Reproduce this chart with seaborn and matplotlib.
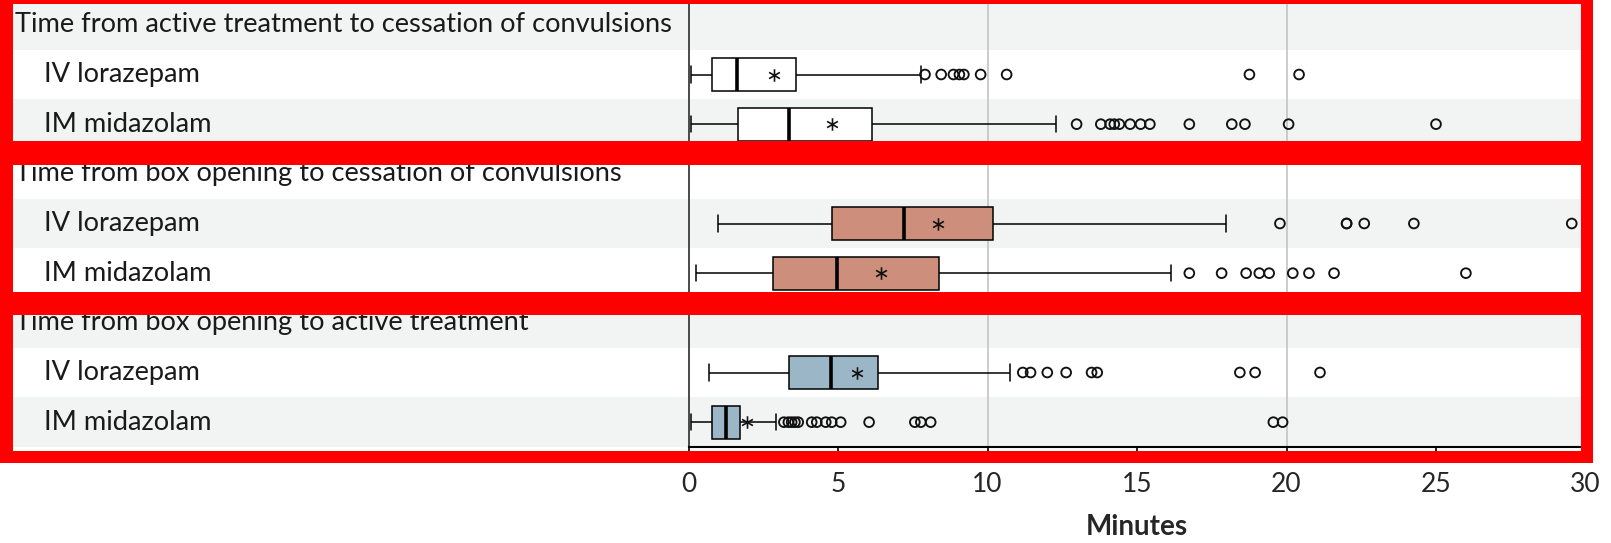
import numpy as np
import pandas as pd
import matplotlib
matplotlib.use("Agg")
import matplotlib.pyplot as plt
import matplotlib.transforms as mtransforms
from matplotlib.patches import Rectangle
import seaborn as sns

# ---- data (minutes) ---------------------------------------------------------
measures = [
    "Time from active treatment to cessation of convulsions",
    "Time from box opening to cessation of convulsions",
    "Time from box opening to active treatment",
]
arms = ["IV lorazepam", "IM midazolam"]
box_colors = ["#ffffff", "#cd8f7b", "#9bb7c7"]

# five-number summaries per measure, [IV lorazepam, IM midazolam]
whisker_low = [[0.08, 0.08], [1.00, 0.25], [0.69, 0.07]]
quartile_1 = [[0.78, 1.67], [4.79, 2.84], [3.36, 0.78]]
median = [[1.63, 3.37], [7.22, 4.96], [4.77, 1.24]]
quartile_3 = [[3.59, 6.15], [10.17, 8.37], [6.35, 1.72]]
whisker_high = [[7.78, 12.28], [17.98, 16.13], [10.75, 2.92]]
mean = [[2.87, 4.79], [8.35, 6.44], [5.63, 1.97]]

outliers = [
    [
        [7.91, 8.45, 8.86, 9.06, 9.21, 9.77, 10.64, 18.76, 20.42],
        [12.98, 13.79, 14.10, 14.24, 14.41, 14.77, 15.12, 15.43, 16.75,
         18.17, 18.61, 20.07, 25.00],
    ],
    [
        [19.78, 22.01, 22.01, 22.60, 24.26, 29.54],
        [16.75, 17.83, 18.65, 19.09, 19.42, 20.21, 20.75, 21.59, 26.00],
    ],
    [
        [11.18, 11.44, 12.00, 12.63, 13.48, 13.67, 18.44, 18.95, 21.12],
        [3.19, 3.34, 3.45, 3.56, 3.67, 4.12, 4.29, 4.59, 4.79, 5.09, 6.04,
         7.57, 7.77, 8.10, 19.56, 19.87],
    ],
]

x_ticks = [0, 5, 10, 15, 20, 25, 30]
x_label = "Minutes"

# ---- long-format tables -----------------------------------------------------
row_keys, row_labels, row_is_header = [], [], []
box_rows, flier_rows, mean_rows = [], [], []
for m, measure in enumerate(measures):
    row_keys.append(f"m{m}")
    row_labels.append(measure)
    row_is_header.append(True)
    for a, arm in enumerate(arms):
        key = f"m{m}-a{a}"
        row_keys.append(key)
        row_labels.append(arm)
        row_is_header.append(False)
        five = [whisker_low[m][a], quartile_1[m][a], median[m][a],
                quartile_3[m][a], whisker_high[m][a]]
        for v in five:
            box_rows.append({"row": key, "measure": measure, "minutes": v})
        for v in outliers[m][a]:
            flier_rows.append({"row": key, "minutes": v})
        mean_rows.append({"row": key, "minutes": mean[m][a]})

boxes = pd.DataFrame(box_rows)
fliers = pd.DataFrame(flier_rows)
means = pd.DataFrame(mean_rows)

# ---- figure -----------------------------------------------------------------
sns.set_theme(style="white")
plt.rcParams["font.family"] = ["Lato", "DejaVu Sans"]

W, H = 1611, 543
fig = plt.figure(figsize=(W / 100, H / 100), dpi=100)
ax_left, ax_right, ax_top, ax_bottom = 688.5, 1585.5, 0.0, 447.0
ax = fig.add_axes([ax_left / W, 1 - ax_bottom / H,
                   (ax_right - ax_left) / W, (ax_bottom - ax_top) / H])

n_rows = len(row_keys)
# alternating row bands, running under the labels on the left
for i in range(n_rows):
    if i % 2 == 0:
        band = ax.axhspan(i - 0.5, i + 0.5, xmin=-ax_left / (ax_right - ax_left),
                          xmax=1.0, facecolor="#f2f3f3", edgecolor="none",
                          zorder=0)
        band.set_clip_on(False)

for g in (10, 20):
    ax.axvline(g, color="#c4c4c4", lw=1.2, zorder=0.5)

sns.boxplot(
    data=boxes, x="minutes", y="row", hue="measure", order=row_keys,
    hue_order=measures, palette=box_colors, saturation=1, dodge=False,
    orient="h", whis=(0, 100), showfliers=False, width=0.66,
    linecolor="black", linewidth=1.1, legend=False, ax=ax,
    medianprops={"linewidth": 2.6, "color": "black"},
    boxprops={"zorder": 2}, whiskerprops={"zorder": 2}, capprops={"zorder": 2},
)

# outliers as open circles
n_before = len(ax.collections)
sns.stripplot(
    data=fliers, x="minutes", y="row", order=row_keys, orient="h",
    jitter=False, size=7, marker="o", color="black", edgecolor="black",
    linewidth=1.35, ax=ax, zorder=3,
)
for coll in ax.collections[n_before:]:
    coll.set_facecolor("none")
    coll.set_edgecolor("#111111")

# means as asterisks
sns.stripplot(
    data=means, x="minutes", y="row", order=row_keys, orient="h",
    jitter=False, size=9, marker="$\\ast$", color="#111111", linewidth=0,
    ax=ax, zorder=4,
)

ax.set_xlim(0, 30)
ax.set_ylim(n_rows - 0.5, -0.5)
ax.set_xticks(x_ticks)
ax.set_xticklabels([str(t) for t in x_ticks])
ax.tick_params(axis="x", direction="out", length=5, width=1.2, color="black",
               pad=13, labelsize=19, bottom=True)
ax.tick_params(axis="y", left=False, labelleft=False)
ax.set_ylabel("")
ax.set_xlabel(x_label, fontsize=20, fontweight="bold", labelpad=12)
ax.set_facecolor("none")
for side in ("top", "right"):
    ax.spines[side].set_visible(False)
ax.spines["left"].set_color("#3c3c3c")
ax.spines["left"].set_linewidth(1.3)
ax.spines["bottom"].set_color("black")
ax.spines["bottom"].set_linewidth(1.5)

# row labels on the left
lab_tf = mtransforms.blended_transform_factory(fig.transFigure, ax.transData)
for i, (label, header) in enumerate(zip(row_labels, row_is_header)):
    x0 = (15 if header else 44) / W
    ax.text(x0, i, label, transform=lab_tf, ha="left", va="center",
            fontsize=19.6, color="#1a1a1a", clip_on=False, zorder=5)


# red outlines around each measure, built from solid bars
def red_bar(x0, y0, x1, y1):
    fig.add_artist(Rectangle((x0 / W, 1 - y1 / H), (x1 - x0) / W,
                             (y1 - y0) / H, transform=fig.transFigure,
                             facecolor="#ff0000", edgecolor="none", zorder=10))


thick = 12.5
left, right = 0.0, 1593.0
for top, bottom in [(-9.0, 154.0), (152.0, 304.0), (302.0, 463.0)]:
    red_bar(left, top, right, top + thick)
    red_bar(left, bottom - thick, right, bottom)
    red_bar(left, top, left + thick, bottom)
    red_bar(right - thick, top, right, bottom)

fig.savefig("out.png", dpi=100)
